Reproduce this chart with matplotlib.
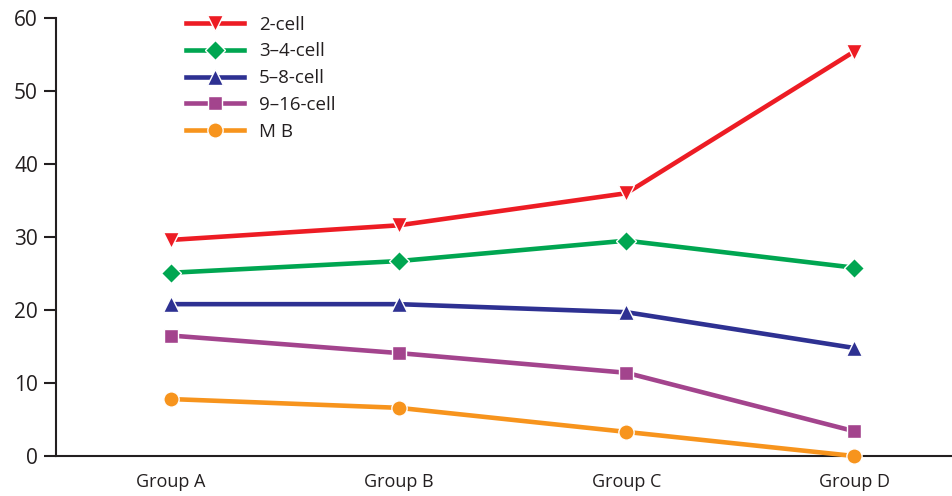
import matplotlib
matplotlib.use("Agg")
import matplotlib.pyplot as plt

groups = ["Group A", "Group B", "Group C", "Group D"]
series_names = ["2-cell", "3–4-cell", "5–8-cell", "9–16-cell", "M B"]
cell2 = [29.6, 31.6, 36.0, 55.4]
cell34 = [25.1, 26.7, 29.5, 25.8]
cell58 = [20.8, 20.8, 19.7, 14.8]
cell916 = [16.5, 14.1, 11.4, 3.4]
mb = [7.8, 6.6, 3.3, 0.0]
y_ticks = [0, 10, 20, 30, 40, 50, 60]

colors = ["#ED1C24", "#00A651", "#2E3192", "#A3448D", "#F7941D"]
markers = ["v", "D", "^", "s", "o"]
msizes = [12, 10.5, 12, 10, 11]

plt.rcParams['font.family'] = ['Open Sans', 'DejaVu Sans']

fig = plt.figure(figsize=(9.52, 4.96), dpi=100)
ax = fig.add_axes([56/952, 40/496, 1 - 56/952, (456-18)/496])

xs = list(range(len(groups)))
for vals, name, c, m, ms in zip([cell2, cell34, cell58, cell916, mb], series_names, colors, markers, msizes):
    ax.plot(xs, vals, color=c, lw=3.3, marker=m, markersize=ms,
            markeredgecolor="white", markeredgewidth=1.0, label=name, clip_on=False, zorder=3)

ax.set_xlim(-0.505, 3.43)
ax.set_ylim(0, 60)
ax.set_yticks(y_ticks)
ax.set_yticklabels([str(v) for v in y_ticks], fontsize=15, color="#231F20")
ax.set_xticks(xs)
ax.set_xticklabels(groups, fontsize=13, color="#231F20")
ax.tick_params(axis='x', length=0, pad=12)
ax.tick_params(axis='y', length=9, width=1.5, color="#231F20", pad=4)
for s in ["top", "right"]:
    ax.spines[s].set_visible(False)
for s in ["left", "bottom"]:
    ax.spines[s].set_linewidth(1.5)
    ax.spines[s].set_color("#231F20")

leg = ax.legend(loc="upper left", bbox_to_anchor=(0.126, 1.044), frameon=False,
                fontsize=13.5, handlelength=3.1, handletextpad=0.8, labelspacing=0.47,
                labelcolor="#231F20")

fig.savefig("out.png", dpi=100)
